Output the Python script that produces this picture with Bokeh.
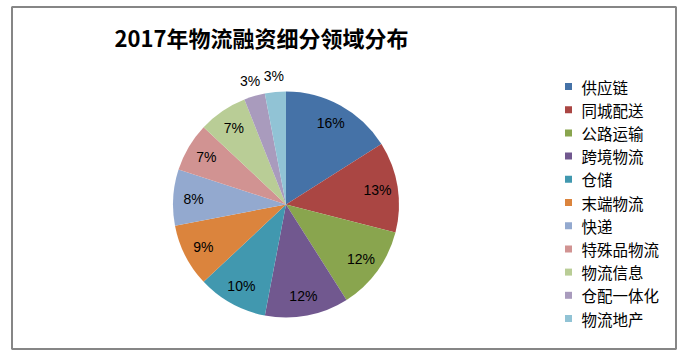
import math
from bokeh.plotting import figure
from bokeh.models import Range1d, ColumnDataSource
from bokeh.core.properties import value
from bokeh.embed import file_html
from bokeh.resources import INLINE

categories = ["供应链", "同城配送", "公路运输", "跨境物流", "仓储", "末端物流",
              "快递", "特殊品物流", "物流信息", "仓配一体化", "物流地产"]
shares = [16, 13, 12, 12, 10, 9, 8, 7, 7, 3, 3]
colors = ["#4572A7", "#AA4643", "#89A54E", "#71588F", "#4198AF", "#DB843D",
          "#93A9CF", "#D19392", "#B9CD96", "#A99BBD", "#91C3D5"]
title_text = "2017年物流融资细分领域分布"

W, H = 687, 354
p = figure(width=W, height=H, output_backend="svg", toolbar_location=None,
           x_range=Range1d(0, W), y_range=Range1d(0, H), min_border=0)
p.axis.visible = False
p.grid.visible = False
p.outline_line_color = None
p.background_fill_color = "white"
p.border_fill_color = "white"

# chart frame
p.quad(left=[11.5], right=[675.5], bottom=[H - 348.5], top=[H - 6.5],
       fill_color=None, line_color="#868686", line_width=2)

cx, cy, R = 285.5, H - 204, 113
total = sum(shares)
starts, ends, lx, ly, texts = [], [], [], [], []
cum = 0
for v in shares:
    a0 = math.pi / 2 - 2 * math.pi * cum / total
    cum += v
    a1 = math.pi / 2 - 2 * math.pi * cum / total
    starts.append(a0)
    ends.append(a1)
    mid = (a0 + a1) / 2
    frac = v / total
    r = R * 1.14 if frac < 0.05 else R * 0.82
    lx.append(cx + r * math.cos(mid))
    ly.append(cy + r * math.sin(mid))
    texts.append(f"{v}%")

src = ColumnDataSource(dict(start=starts, end=ends, color=colors, cat=categories))
p.wedge(x=cx, y=cy, radius=R, start_angle="start", end_angle="end",
        direction="clock", fill_color="color", line_color=None, source=src)

p.text(x=lx, y=ly, text=texts, text_align="center", text_baseline="middle",
       text_font=value("Liberation Sans"), text_font_size="14px", text_color="black")

# title
p.text(x=[261], y=[H - 36], text=[title_text], text_align="center",
       text_baseline="middle", text_font=value("Noto Sans CJK SC"),
       text_font_size="22px", text_font_style="bold", text_color="black")

# legend
leg_y = [H - (86 + i * 23.2) for i in range(len(categories))]
p.rect(x=[568] * len(categories), y=leg_y, width=7, height=7,
       fill_color=colors, line_color=None)
p.text(x=[581] * len(categories), y=leg_y, text=categories, text_align="left",
       text_baseline="middle", text_font=value("Noto Sans CJK SC"),
       text_font_size="15.5px", text_color="black")

open("out.html", "w").write(file_html(p, INLINE))
